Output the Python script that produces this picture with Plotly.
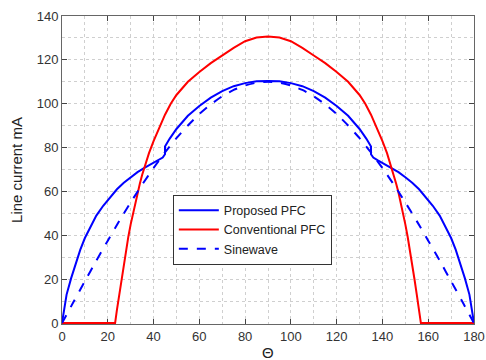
import plotly.graph_objects as go

# Proposed PFC
prop_x = [0, 1, 2, 4, 6, 8, 10, 12, 15, 18, 21, 24, 27, 30, 33, 36, 39, 42, 44, 45, 45,
          47, 50, 55, 60, 65, 70, 75, 80, 85, 90,
          95, 100, 105, 110, 115, 120, 125, 130, 133, 135, 135, 136, 138, 141, 144, 147,
          150, 153, 156, 159, 162, 165, 168, 170, 172, 174, 176, 178, 179, 180]
prop_y = [0, 7, 13, 20.5, 27.5, 33.5, 38.8, 43, 49, 53.5, 57.5, 61, 64, 66.5, 68.8, 70.8, 72.5, 74.2, 75.5, 77, 80.5,
          84, 88.5, 94.5, 99, 102.8, 105.8, 108, 109.4, 110.2, 110.4,
          110.2, 109.4, 108, 105.8, 102.8, 99, 94.5, 88.5, 84, 80.5, 77, 75.5, 74.2, 72.5, 70.8, 68.8,
          66.5, 64, 61, 57.5, 53.5, 49, 43, 38.8, 33.5, 27.5, 20.5, 13, 7, 0]

# Conventional PFC
conv_x = [0, 23.2, 24, 25, 26, 27, 28, 29, 30, 31, 32, 33, 34, 35, 36, 38, 40, 42, 45, 47.5, 50,
          55, 60, 65, 70, 75, 80, 85, 90, 95, 100, 105, 110, 115, 120, 125, 130, 132.5, 135,
          138, 140, 142, 144, 145, 146, 147, 148, 149, 150, 151, 152, 153, 154, 155, 156, 156.8, 180]
conv_y = [0, 0, 6, 13, 20, 27, 33.5, 39.5, 45, 50, 55, 59.5, 63.5, 67.5, 71, 77.5, 83, 88, 95, 100, 104,
          110, 114.5, 118.5, 122, 125.5, 128.5, 130.2, 130.7, 130.2, 128.5, 125.5, 122, 118.5, 114.5, 110, 104, 100, 95,
          88, 83, 77.5, 71, 67.5, 63.5, 59.5, 55, 50, 45, 39.5, 33.5, 27, 20, 13, 6, 0, 0]

# Sinewave
sine_x = [0, 5, 10, 15, 20, 25, 30, 35, 40, 45, 50, 55, 60, 65, 70, 75, 80, 85, 90,
          95, 100, 105, 110, 115, 120, 125, 130, 135, 140, 145, 150, 155, 160, 165, 170, 175, 180]
sine_y = [0, 9.6, 19.1, 28.5, 37.6, 46.5, 55, 63.1, 70.7, 77.8, 84.3, 90.1, 95.3, 99.7, 103.4, 106.3, 108.3, 109.6, 110,
          109.6, 108.3, 106.3, 103.4, 99.7, 95.3, 90.1, 84.3, 77.8, 70.7, 63.1, 55, 46.5, 37.6, 28.5, 19.1, 9.6, 0]

x_ticks = [0, 20, 40, 60, 80, 100, 120, 140, 160, 180]
y_ticks = [0, 20, 40, 60, 80, 100, 120, 140]

fig = go.Figure()
fig.add_trace(go.Scatter(x=prop_x, y=prop_y, mode="lines", name="Proposed PFC",
                         line=dict(color="#0000ff", width=2)))
fig.add_trace(go.Scatter(x=conv_x, y=conv_y, mode="lines", name="Conventional PFC",
                         line=dict(color="#ff0000", width=2)))
fig.add_trace(go.Scatter(x=sine_x, y=sine_y, mode="lines", name="Sinewave",
                         line=dict(color="#0000ff", width=2, dash="dash", shape="spline", smoothing=0.6)))

axis_common = dict(
    showline=True, linecolor="#666666", linewidth=1, mirror="ticks",
    ticks="inside", ticklen=5, tickcolor="#444444",
    showgrid=True, gridcolor="#cfcfcf", griddash="dot", gridwidth=1,
    zeroline=False, layer="below traces", automargin=False,
    ticklabeloverflow="allow",
    tickfont=dict(family="Liberation Sans, Arial", size=13, color="#333333"),
)

fig.update_xaxes(range=[0, 180], tickvals=x_ticks, ticktext=[str(v) for v in x_ticks],
                 minor=dict(dtick=10, tick0=0, showgrid=True, gridcolor="#cfcfcf", griddash="dot", ticks=""),
                 **axis_common)
fig.update_yaxes(range=[-0.4, 140], tickvals=y_ticks, ticktext=[str(v) for v in y_ticks],
                 minor=dict(dtick=10, tick0=0, showgrid=True, gridcolor="#cfcfcf", griddash="dot", ticks=""),
                 title=dict(text="Line current mA", font=dict(family="Liberation Sans, Arial", size=15, color="#222222"),
                            standoff=10),
                 **axis_common)

fig.add_annotation(text="Θ", xref="paper", yref="paper", x=0.5, y=-0.091,
                   xanchor="center", yanchor="middle", showarrow=False,
                   font=dict(family="Liberation Sans, Arial", size=15, color="#222222"))

fig.update_layout(
    width=486, height=360,
    margin=dict(l=62, r=12, t=16, b=36),
    paper_bgcolor="white", plot_bgcolor="white",
    showlegend=True,
    legend=dict(x=0.269, y=0.42, xanchor="left", yanchor="top",
                bgcolor="white", bordercolor="#333333", borderwidth=1,
                font=dict(family="Liberation Sans, Arial", size=12.5, color="#222222"),
                itemwidth=40, tracegroupgap=0),
)

fig.write_html("out.html", config={"displayModeBar": False},
               post_script="document.body.style.margin='0';document.body.style.overflow='hidden';")
